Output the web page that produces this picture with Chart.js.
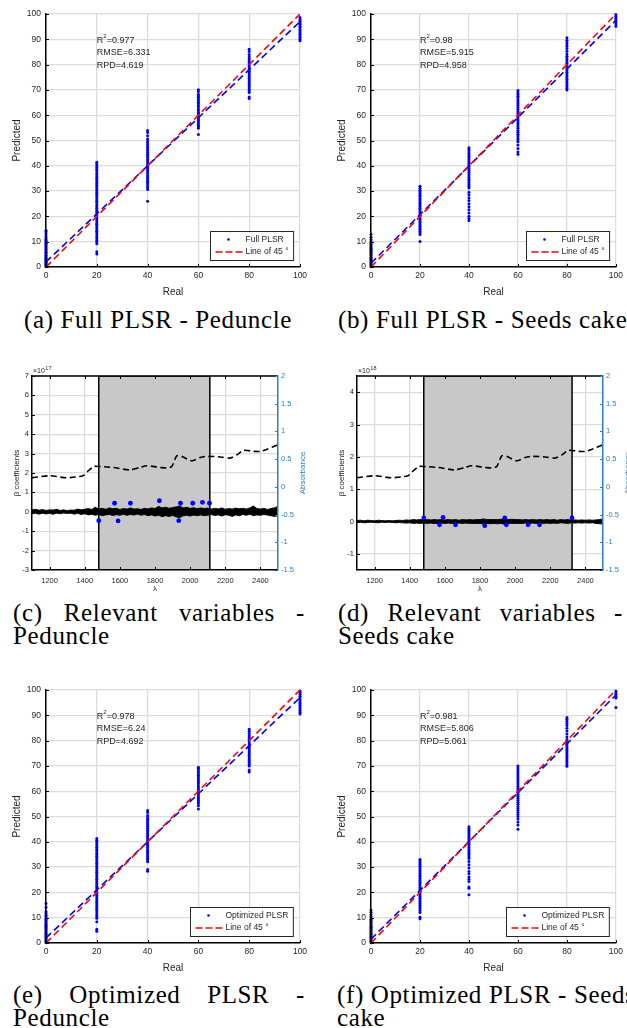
<!DOCTYPE html>
<html><head><meta charset="utf-8">
<script src="https://cdn.jsdelivr.net/npm/chart.js@4.4.1/dist/chart.umd.min.js"></script>
<style>
html,body{margin:0;padding:0;background:#fff;}
body{width:627px;height:1028px;position:relative;overflow:hidden;}
canvas{position:absolute;}
.cap{position:absolute;font-family:"Liberation Serif","DejaVu Serif",serif;font-size:25px;color:#000;white-space:nowrap;line-height:1;}
.just{display:flex;justify-content:space-between;}
</style></head><body>
<div class="cap" id="capA" style="left:24px;top:307px">(a) Full PLSR - Peduncle</div>
<div class="cap" style="left:338px;top:307px">(b) Full PLSR - Seeds cake</div>
<div class="cap just" style="left:13px;top:600px;width:292px"><span>(c)</span><span>Relevant</span><span>variables</span><span>-</span></div>
<div class="cap" style="left:13px;top:623px">Peduncle</div>
<div class="cap just" style="left:338px;top:600px;width:285px"><span>(d)</span><span>Relevant</span><span>variables</span><span>-</span></div>
<div class="cap" style="left:338px;top:623px">Seeds cake</div>
<div class="cap just" style="left:13px;top:982px;width:292px"><span>(e)</span><span>Optimized</span><span>PLSR</span><span>-</span></div>
<div class="cap" style="left:13px;top:1005px">Peduncle</div>
<div class="cap" style="left:337px;top:982px">(f) Optimized PLSR - Seeds</div>
<div class="cap" style="left:337px;top:1005px">cake</div>
<script>
// ---------------- DATA ----------------
const realLevels = [0, 20, 40, 60, 80, 100];
const realTicks = [0, 20, 40, 60, 80, 100];
const predTicks = [0, 10, 20, 30, 40, 50, 60, 70, 80, 90, 100];
const line45 = [0, 100];

// (a) Full PLSR - Peduncle : predicted values for each real level
const predA = [
  [0.1,0.4,0.8,1.1,1.5,1.9,2.2,2.7,3.1,3.4,3.9,4.3,4.6,5.1,5.5,5.8,6.3,6.7,7.2,7.5,8,8.4,8.9,9.3,9.6,10.1,10.5,10.9,11.6,12.3,13.1,13.9,14.4],
  [5.1,6.0,9.2,9.9,10.5,11.3,11.9,12.6,13.4,14.1,14.7,15.5,16.2,16.9,17.5,18.3,19.0,19.6,20.4,21.1,21.8,22.4,23.2,23.9,24.5,25.3,26.0,26.6,27.4,28.1,28.8,29.5,30.2,30.9,31.6,32.3,33.0,33.7,34.4,35.1,35.8,36.5,37.2,37.9,38.6,39.3,40.0,40.7,41.4],
  [26.0,30.6,31.3,32.0,32.8,33.5,34.1,34.9,35.6,36.2,37.0,37.7,38.3,39.1,39.8,40.4,41.2,41.9,42.5,43.3,44.0,44.6,45.4,46.1,46.8,47.5,48.3,49.1,49.8,50.6,51.9,53.2,54.0],
  [52.4,54.8,55.4,56.0,56.7,57.3,58.0,58.6,59.3,59.9,60.6,61.2,61.9,62.5,63.2,63.8,64.5,65.1,65.8,66.4,67.1,67.7,68.3,69.4,70.1],
  [66.6,67.2,69.0,69.7,70.4,71.1,71.8,72.5,73.2,73.9,74.6,75.3,76.0,76.7,77.4,78.1,78.8,79.5,80.2,80.9,81.6,82.3,83.1,84.0,85.2,86.1],
  [89.4,90.0,90.7,91.3,92.0,92.6,93.3,93.9,94.6,95.2,95.9,96.5,97.1,97.8,98.6]
];
const fitA = [2.0, 97.0];
const statsA = ['0.977', '6.331', '4.619'];

// (b) Full PLSR - Seeds cake
const predB = [
  [0.1,0.5,0.9,1.3,1.7,2.1,2.6,3.0,3.4,3.9,4.3,4.8,5.2,5.6,6.1,6.5,7.0,7.4,7.9,8.3,8.8,9.2,9.7,10.2,10.9,11.8,12.9],
  [10.1,12.8,13.5,14.1,14.8,15.4,16.1,16.7,17.4,18.0,18.7,19.3,20.0,20.6,21.3,21.9,22.6,23.2,23.9,24.5,25.2,25.8,26.5,27.1,27.8,28.4,29.1,29.7,30.3,31.1,31.9],
  [18.4,19.2,20.1,21.3,22.6,23.8,25.0,26.3,27.4,28.6,29.5,31.2,31.9,32.6,33.3,34.0,34.7,35.4,36.1,36.8,37.5,38.2,38.9,39.6,40.3,41.0,41.7,42.4,43.1,43.8,44.5,45.2,45.9,46.6,47.1],
  [44.6,45.5,46.8,48.2,49.5,50.3,51.0,51.8,52.5,53.3,54.0,54.8,55.5,56.3,57.0,57.8,58.5,59.3,60.0,60.8,61.5,62.3,63.0,63.8,64.5,65.3,66.0,66.8,67.5,68.3,69.0,69.8],
  [70.0,70.7,71.4,72.1,72.8,73.5,74.2,74.9,75.6,76.3,77.0,77.7,78.4,79.1,79.8,80.5,81.2,81.9,82.6,83.3,84.2,85.3,86.4,87.3,88.1,88.9,89.6,90.6],
  [95.2,96.0,96.8,97.5,98.3,99.1,99.8]
];
const fitB = [1.5, 97.5];
const statsB = ['0.98', '5.915', '4.958'];

// (e) Optimized PLSR - Peduncle
const predE = [
  [0.1,0.5,0.9,1.3,1.7,2.2,2.6,3.0,3.5,3.9,4.3,4.8,5.2,5.7,6.1,6.5,7.0,7.4,7.9,8.3,8.8,9.3,9.8,10.4,11.0,11.7,12.4,14.1,15.6],
  [4.6,5.4,8.4,9.8,10.5,11.2,11.9,12.6,13.3,14.0,14.7,15.4,16.1,16.8,17.5,18.2,18.9,19.6,20.3,21.0,21.7,22.4,23.1,23.8,24.5,25.2,25.9,26.6,27.3,28.0,28.7,29.4,30.1,30.8,31.5,32.2,32.9,33.6,34.3,35.0,35.7,36.4,37.1,37.8,38.5,39.2,39.9,40.6,41.3],
  [28.4,29.1,32.1,32.8,33.5,34.2,34.9,35.6,36.3,37.0,37.7,38.4,39.1,39.8,40.5,41.2,41.9,42.6,43.3,44.0,44.7,45.4,46.1,46.8,47.5,48.2,48.9,49.6,50.4,51.6,52.4],
  [53.0,54.2,55.1,55.8,56.5,57.2,57.9,58.6,59.3,60.0,60.7,61.4,62.1,62.8,63.5,64.2,64.9,65.6,66.3,67.0,67.7,68.4,69.1,69.5],
  [67.6,68.4,70.0,70.7,71.4,72.1,72.8,73.5,74.2,74.9,75.6,76.3,77.0,77.7,78.4,79.1,79.8,80.5,81.2,81.9,82.8,83.7,84.5],
  [90.5,91.2,91.9,92.6,93.3,94.0,94.7,95.4,96.1,96.8,97.5,98.3,99.1,99.6]
];
const fitE = [2.0, 97.0];
const statsE = ['0.978', '6.24', '4.692'];

// (f) Optimized PLSR - Seeds cake
const predF = [
  [0.1,0.5,0.9,1.3,1.7,2.2,2.6,3.0,3.5,3.9,4.4,4.8,5.3,5.7,6.2,6.6,7.1,7.5,8.0,8.4,8.9,9.4,9.9,10.5,11.3,12.2,13.0],
  [9.6,10.2,12.1,12.8,13.5,14.2,14.9,15.6,16.3,17.0,17.7,18.4,19.1,19.8,20.5,21.2,21.9,22.6,23.3,24.0,24.7,25.4,26.1,26.8,27.5,28.2,28.9,29.6,30.3,31.0,31.7,32.4,33.0],
  [19.1,21.6,22.1,24.3,25.2,26.1,27.4,28.3,29.6,30.9,32.2,33.4,34.1,34.8,35.5,36.2,36.9,37.6,38.3,39.0,39.7,40.4,41.1,41.8,42.5,43.2,43.9,44.6,45.3,45.9],
  [45.0,46.6,47.8,49.0,50.0,50.8,51.6,52.4,53.2,54.0,54.8,55.6,56.4,57.2,58.0,58.8,59.6,60.4,61.2,62.0,62.8,63.6,64.4,65.2,66.0,66.8,67.6,68.4,69.2,70.0],
  [69.9,70.6,71.3,72.0,72.7,73.4,74.1,74.8,75.5,76.2,76.9,77.6,78.3,79.0,79.7,80.4,81.4,82.6,83.8,84.9,86.0,86.8,87.6,88.4,89.1],
  [93.1,96.8,97.5,98.2,98.9,99.6]
];
const fitF = [1.5, 98.0];
const statsF = ['0.981', '5.806', '5.061'];

// (c)/(d) Relevant variables
const lambdaTicks = [1200, 1400, 1600, 1800, 2000, 2200, 2400];
const absTicks = [-1.5, -1, -0.5, 0, 0.5, 1, 1.5, 2];
const betaTicksC = [-3, -2, -1, 0, 1, 2, 3, 4, 5, 6, 7];
const betaTicksD = [-1, 0, 1, 2, 3, 4];
const lambdaGrid = [1100,1120,1140,1160,1180,1200,1220,1240,1260,1280,
  1300,1320,1340,1360,1380,1400,1420,1440,1460,1480,
  1500,1520,1540,1560,1580,1600,1620,1640,1660,1680,
  1700,1720,1740,1760,1780,1800,1820,1840,1860,1880,
  1900,1920,1940,1960,1980,2000,2020,2040,2060,2080,
  2100,2120,2140,2160,2180,2200,2220,2240,2260,2280,
  2300,2320,2340,2360,2380,2400,2420,2440,2460,2480,
  2500];
// beta coefficient envelope (upper / lower), x10^17
const betaUpperC = [0.10,0.13,0.08,0.12,0.07,0.10,0.09,0.13,0.07,0.10,
  0.06,0.09,0.08,0.14,0.10,0.13,0.17,0.12,0.24,0.14,
  0.18,0.13,0.20,0.16,0.18,0.12,0.17,0.14,0.20,0.14,
  0.16,0.12,0.18,0.15,0.20,0.17,0.28,0.20,0.24,0.18,
  0.22,0.25,0.30,0.20,0.23,0.18,0.21,0.16,0.20,0.17,
  0.19,0.14,0.18,0.15,0.20,0.13,0.17,0.14,0.19,0.16,
  0.18,0.14,0.20,0.30,0.17,0.14,0.18,0.12,0.17,0.21,
  0.27];
const betaLowerC = [-0.10,-0.08,-0.12,-0.07,-0.11,-0.08,-0.13,-0.07,-0.10,-0.06,
  -0.09,-0.07,-0.12,-0.08,-0.14,-0.10,-0.16,-0.13,-0.18,-0.14,
  -0.20,-0.16,-0.14,-0.19,-0.15,-0.18,-0.13,-0.18,-0.14,-0.17,
  -0.12,-0.18,-0.14,-0.20,-0.16,-0.22,-0.18,-0.25,-0.20,-0.24,
  -0.19,-0.26,-0.31,-0.21,-0.18,-0.22,-0.17,-0.20,-0.16,-0.20,
  -0.18,-0.14,-0.19,-0.16,-0.22,-0.15,-0.18,-0.24,-0.16,-0.20,
  -0.14,-0.18,-0.13,-0.20,-0.16,-0.18,-0.14,-0.17,-0.20,-0.24,
  -0.20];
// x10^18
const betaUpperD = [0.03,0.04,0.02,0.04,0.03,0.02,0.04,0.03,0.02,0.03,
  0.02,0.03,0.04,0.03,0.05,0.04,0.06,0.05,0.06,0.05,
  0.06,0.05,0.06,0.05,0.06,0.05,0.06,0.05,0.06,0.04,
  0.06,0.05,0.06,0.05,0.06,0.06,0.08,0.06,0.06,0.06,
  0.06,0.07,0.09,0.06,0.07,0.06,0.06,0.05,0.06,0.05,
  0.06,0.05,0.06,0.05,0.06,0.05,0.06,0.04,0.06,0.05,
  0.06,0.04,0.05,0.04,0.05,0.04,0.05,0.04,0.05,0.06,
  0.08];
const betaLowerD = [-0.03,-0.02,-0.04,-0.03,-0.02,-0.03,-0.04,-0.02,-0.03,-0.02,
  -0.03,-0.04,-0.03,-0.04,-0.05,-0.04,-0.06,-0.05,-0.06,-0.05,
  -0.06,-0.05,-0.06,-0.06,-0.05,-0.06,-0.05,-0.06,-0.06,-0.05,
  -0.06,-0.05,-0.06,-0.06,-0.06,-0.06,-0.08,-0.06,-0.07,-0.06,
  -0.07,-0.06,-0.09,-0.06,-0.06,-0.06,-0.06,-0.06,-0.05,-0.06,
  -0.05,-0.06,-0.05,-0.06,-0.05,-0.06,-0.05,-0.06,-0.04,-0.05,
  -0.06,-0.04,-0.05,-0.04,-0.05,-0.04,-0.05,-0.04,-0.06,-0.07,
  -0.08];
// mean absorbance spectrum (right axis)
const absLambda = [1100,1200,1295,1390,1413,1451,1486,1562,1657,1714,1752,1829,1867,1895,1924,1952,2010,2057,2095,2171,2229,2267,2305,2362,2400,2438,2500];
const absValue = [0.165,0.20,0.165,0.20,0.27,0.366,0.366,0.35,0.305,0.35,0.38,0.35,0.34,0.366,0.56,0.55,0.47,0.53,0.55,0.54,0.52,0.58,0.66,0.64,0.64,0.68,0.76];
// selected interval and selected variables
const regionC = [1480, 2112];
const regionD = [1480, 2324];
const selLambdaC = [1480,1570,1590,1660,1825,1935,1945,2015,2070,2110];
const selBetaC = [-0.46,0.44,-0.47,0.44,0.57,-0.46,0.44,0.44,0.49,0.44];
const selLambdaD = [1480,1570,1590,1661,1827,1941,1950,2074,2139,2324];
const selBetaD = [0.11,-0.10,0.13,-0.10,-0.13,0.11,-0.10,-0.10,-0.10,0.11];

// ---------------- RENDERING ----------------
const SANS = '"Liberation Sans", Arial, Helvetica, sans-serif';
const TXT = '#262626';
const GRID = '#dcdcdc';
const AXBLUE = '#2a7fc4';

(function fitCaptions(){
  const ref = document.getElementById('capA');
  const w = ref.getBoundingClientRect().width;
  const n = ref.textContent.length;
  const ls = (268 - w) / n;
  document.querySelectorAll('.cap').forEach(el => el.style.letterSpacing = ls + 'px');
})();

function makeCanvas(r){
  const c = document.createElement('canvas');
  c.width = r.w; c.height = r.h;
  c.style.left = r.x + 'px'; c.style.top = r.y + 'px';
  c.style.width = r.w + 'px'; c.style.height = r.h + 'px';
  document.body.appendChild(c);
  return c;
}

function seg(ctx, x1, y1, x2, y2){ ctx.beginPath(); ctx.moveTo(x1, y1); ctx.lineTo(x2, y2); ctx.stroke(); }

const decor = {
  id: 'decor',
  afterDatasetsDraw(chart, args, o){
    const ctx = chart.ctx, ca = chart.chartArea;
    const xs = chart.scales.x, ys = chart.scales.y, y2 = chart.scales.y2;
    ctx.save();
    if (o.box){
      ctx.strokeStyle = '#000'; ctx.lineWidth = 1.5;
      seg(ctx, ca.left, ca.top, ca.right, ca.top);
    }
    ctx.strokeStyle = '#000'; ctx.lineWidth = 1;
    xs.ticks.forEach(t => {
      const p = Math.round(xs.getPixelForValue(t.value)) + 0.5;
      seg(ctx, p, ca.bottom, p, ca.bottom - 3);
      if (o.box) seg(ctx, p, ca.top, p, ca.top + 3);
    });
    ys.ticks.forEach(t => {
      const p = Math.round(ys.getPixelForValue(t.value)) + 0.5;
      seg(ctx, ca.left, p, ca.left + 3, p);
    });
    if (y2){
      ctx.strokeStyle = AXBLUE;
      y2.ticks.forEach(t => {
        const p = Math.round(y2.getPixelForValue(t.value)) + 0.5;
        seg(ctx, ca.right, p, ca.right - 3, p);
      });
    }
    ctx.fillStyle = TXT;
    ctx.font = o.titleSize + 'px ' + SANS;
    ctx.textAlign = 'center'; ctx.textBaseline = 'middle';
    ctx.fillText(o.xTitle, (ca.left + ca.right) / 2, ca.bottom + o.xTitleDy);
    ctx.save();
    ctx.translate(ca.left - o.yTitleDx, (ca.top + ca.bottom) / 2);
    ctx.rotate(-Math.PI / 2);
    ctx.fillText(o.yTitle, 0, 0);
    ctx.restore();
    if (o.y2Title){
      ctx.save();
      ctx.fillStyle = AXBLUE;
      ctx.translate(ca.right + o.y2TitleDx, (ca.top + ca.bottom) / 2);
      ctx.rotate(-Math.PI / 2);
      ctx.fillText(o.y2Title, 0, 0);
      ctx.restore();
    }
    if (o.exponent){
      ctx.fillStyle = TXT; ctx.textAlign = 'left'; ctx.textBaseline = 'alphabetic';
      ctx.font = '7px ' + SANS;
      const x0 = ca.left + 1, y0 = ca.top - 3;
      ctx.fillText('\u00d710', x0, y0);
      const w = ctx.measureText('\u00d710').width;
      ctx.font = '5.5px ' + SANS;
      ctx.fillText(o.exponent, x0 + w + 0.5, y0 - 3);
    }
    if (o.stats){
      const x0 = xs.getPixelForValue(20);
      ctx.fillStyle = TXT; ctx.textAlign = 'left'; ctx.textBaseline = 'middle';
      ctx.font = '9px ' + SANS;
      let y = ys.getPixelForValue(89.6);
      ctx.fillText('R', x0, y);
      let w = ctx.measureText('R').width;
      ctx.font = '6px ' + SANS;
      ctx.fillText('2', x0 + w, y - 3.5);
      const w2 = ctx.measureText('2').width;
      ctx.font = '9px ' + SANS;
      ctx.fillText('=' + o.stats[0], x0 + w + w2, y);
      ctx.fillText('RMSE=' + o.stats[1], x0, ys.getPixelForValue(84.7));
      ctx.fillText('RPD=' + o.stats[2], x0, ys.getPixelForValue(79.8));
    }
    if (o.legend){
      ctx.font = '8.5px ' + SANS;
      const tw = Math.max(ctx.measureText(o.legend[0]).width, ctx.measureText(o.legend[1]).width);
      const bw = 35 + tw + 5, bh = 29;
      const bx = Math.round(ca.right - 7 - bw) + 0.5, by = Math.round(ca.bottom - 7 - bh) + 0.5;
      ctx.fillStyle = '#fff'; ctx.fillRect(bx, by, bw, bh);
      ctx.strokeStyle = '#262626'; ctx.lineWidth = 1; ctx.strokeRect(bx, by, bw, bh);
      ctx.fillStyle = '#0000ff';
      ctx.beginPath(); ctx.arc(bx + 18, by + 8, 1.3, 0, Math.PI * 2); ctx.fill();
      ctx.strokeStyle = '#ff0000'; ctx.lineWidth = 1.6; ctx.setLineDash([7, 3]);
      seg(ctx, bx + 5, by + 20.5, bx + 33, by + 20.5);
      ctx.setLineDash([]);
      ctx.fillStyle = TXT; ctx.textAlign = 'left'; ctx.textBaseline = 'middle';
      ctx.fillText(o.legend[0], bx + 35, by + 8.5);
      ctx.fillText(o.legend[1], bx + 35, by + 20.5);
    }
    ctx.restore();
  }
};

function axisScale(min, max, ticks, size, fit, extra){
  return Object.assign({
    type: 'linear', min, max,
    afterBuildTicks: s => { s.ticks = ticks.map(v => ({value: v})); },
    afterFit: fit,
    ticks: {font: {family: SANS, size}, color: TXT, padding: 4, maxRotation: 0, autoSkip: false, callback: v => String(v)},
    grid: {color: GRID, lineWidth: 1.3, drawTicks: false},
    border: {color: '#000', width: 1.5, z: 1}
  }, extra || {});
}

function clusterPoints(pred){
  const pts = [];
  pred.forEach((arr, i) => arr.forEach(v => pts.push({x: realLevels[i], y: v})));
  return pts;
}

function scatterPanel(r, ca, pred, fit, stats, label){
  const cv = makeCanvas(r);
  const xs = axisScale(0, 100, realTicks, 8.5, s => { s.height = r.h - ca.b; });
  const ys = axisScale(0, 100, predTicks, 8.5, s => { s.width = ca.l; });
  ys.ticks.padding = 5;
  new Chart(cv, {
    type: 'scatter',
    data: {datasets: [
      {label: 'Line of 45 °', data: line45.map(v => ({x: v, y: v})), showLine: true, borderColor: '#ff0000', borderWidth: 1.6, borderDash: [7, 4], pointRadius: 0, order: 0},
      {label: 'fit', data: [{x: realLevels[0], y: fit[0]}, {x: realLevels[5], y: fit[1]}], showLine: true, borderColor: '#0000ff', borderWidth: 1.6, borderDash: [7, 4], pointRadius: 0, order: 1},
      {label, data: clusterPoints(pred), pointRadius: 1.5, pointBackgroundColor: '#0000ff', pointBorderWidth: 0, order: 2, clip: false}
    ]},
    options: {
      responsive: false, animation: false, devicePixelRatio: 1,
      layout: {autoPadding: false, padding: {left: 0, top: ca.t, right: r.w - ca.r, bottom: 0}},
      plugins: {legend: {display: false}, tooltip: {enabled: false},
        decor: {xTitle: 'Real', yTitle: 'Predicted', titleSize: 10, xTitleDy: 25, yTitleDx: 29, stats, legend: [label, 'Line of 45 °']}},
      scales: {x: xs, y: ys}
    },
    plugins: [decor]
  });
}

function betaPanel(r, ca, yMin, yMax, betaTicks, up, lo, region, selL, selB, exponent){
  const cv = makeCanvas(r);
  const xs = axisScale(1100, 2500, lambdaTicks, 7.5, s => { s.height = r.h - ca.b; });
  xs.ticks.padding = 6;
  const ys = axisScale(yMin, yMax, betaTicks, 7.5, s => { s.width = ca.l; });
  ys.ticks.padding = 3;
  const y2 = axisScale(-1.5, 2, absTicks, 7.5, s => { s.width = r.w - ca.r; }, {position: 'right'});
  y2.ticks.color = AXBLUE; y2.ticks.padding = 3;
  y2.grid = {drawOnChartArea: false, drawTicks: false};
  y2.border = {color: AXBLUE, width: 1.5, z: 1};
  new Chart(cv, {
    type: 'scatter',
    data: {datasets: [
      {data: [{x: region[0], y: yMin}, {x: region[0], y: yMax}, {x: region[1], y: yMax}, {x: region[1], y: yMin}],
        showLine: true, fill: 'start', backgroundColor: '#c8c8c8', borderColor: '#000', borderWidth: 1.5, pointRadius: 0, order: 4, yAxisID: 'y'},
      {data: lambdaGrid.map((l, i) => ({x: l, y: up[i]})), showLine: true, fill: '+1', backgroundColor: '#000', borderColor: '#000', borderWidth: 0.9, pointRadius: 0, order: 3, yAxisID: 'y'},
      {data: lambdaGrid.map((l, i) => ({x: l, y: lo[i]})), showLine: true, fill: false, borderColor: '#000', borderWidth: 0.9, pointRadius: 0, order: 3, yAxisID: 'y'},
      {data: absLambda.map((l, i) => ({x: l, y: absValue[i]})), showLine: true, fill: false, borderColor: '#000', borderWidth: 1.6, borderDash: [6, 3.5], tension: 0.25, pointRadius: 0, order: 1, yAxisID: 'y2'},
      {data: selL.map((l, i) => ({x: l, y: selB[i]})), showLine: false, pointRadius: 2.4, pointBackgroundColor: '#0000ff', pointBorderWidth: 0, order: 0, yAxisID: 'y'}
    ]},
    options: {
      responsive: false, animation: false, devicePixelRatio: 1,
      layout: {autoPadding: false, padding: {left: 0, top: ca.t, right: 0, bottom: 0}},
      plugins: {legend: {display: false}, tooltip: {enabled: false},
        decor: {box: true, xTitle: '\u03bb', yTitle: '\u03b2 coefficients', y2Title: 'Absorbance', titleSize: 8, xTitleDy: 19, yTitleDx: 15, y2TitleDx: 25, exponent}},
      scales: {x: xs, y: ys, y2: y2}
    },
    plugins: [decor]
  });
}

scatterPanel({x: 0, y: 0, w: 313, h: 300}, {l: 46, t: 14, r: 300, b: 267}, predA, fitA, statsA, 'Full PLSR');
scatterPanel({x: 313, y: 0, w: 314, h: 300}, {l: 58, t: 14, r: 311, b: 267}, predB, fitB, statsB, 'Full PLSR');
betaPanel({x: 0, y: 330, w: 313, h: 272}, {l: 32, t: 46, r: 278, b: 240}, -3, 7, betaTicksC, betaUpperC, betaLowerC, regionC, selLambdaC, selBetaC, '17');
betaPanel({x: 313, y: 330, w: 314, h: 272}, {l: 44, t: 46, r: 290, b: 240}, -1.5, 4.5, betaTicksD, betaUpperD, betaLowerD, regionD, selLambdaD, selBetaD, '18');
scatterPanel({x: 0, y: 660, w: 313, h: 318}, {l: 46, t: 30, r: 300, b: 283}, predE, fitE, statsE, 'Optimized PLSR');
scatterPanel({x: 313, y: 660, w: 314, h: 318}, {l: 58, t: 30, r: 311, b: 283}, predF, fitF, statsF, 'Optimized PLSR');
</script>
</body></html>
